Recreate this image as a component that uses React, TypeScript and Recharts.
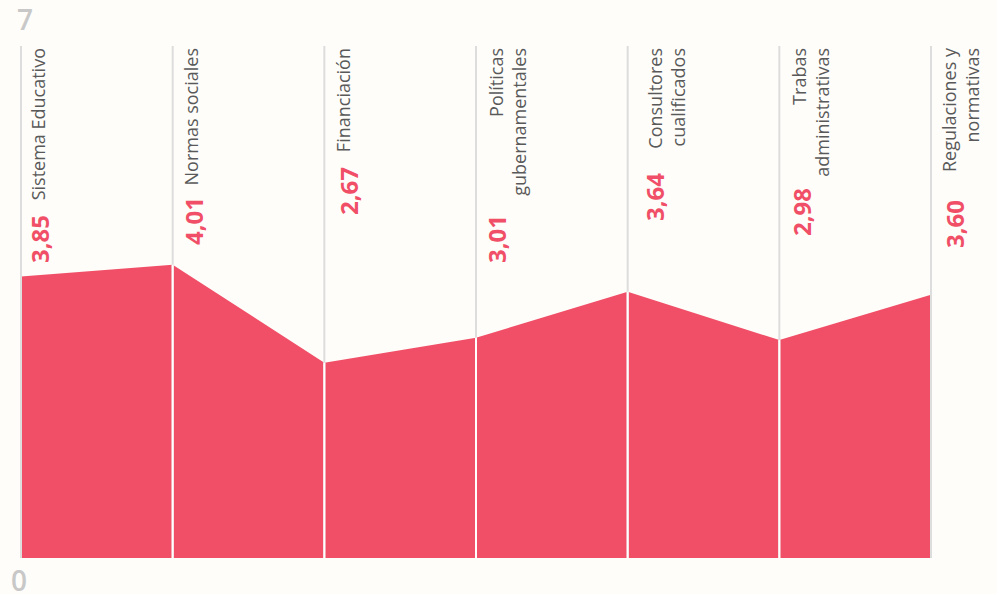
import React from "react";
import { AreaChart, Area, XAxis, YAxis, ReferenceLine } from "recharts";

const categoryLines: string[][] = [
  ["Sistema Educativo"],
  ["Normas sociales"],
  ["Financiación"],
  ["Políticas", "gubernamentales"],
  ["Consultores", "cualificados"],
  ["Trabas", "administrativas"],
  ["Regulaciones y", "normativas"],
];
const values = [3.85, 4.01, 2.67, 3.01, 3.64, 2.98, 3.6];
const valueLabels = ["3,85", "4,01", "2,67", "3,01", "3,64", "2,98", "3,60"];
const yTicks = [0, 7];

// label layout (offsets relative to each gridline)
const labelDx = [24, 25, 26, 27, 34, 27, 25];
const valueDx = [28, 30, 34, 30, 36, 32, 33];
const valueEndDy = [169, 151, 121, 169, 127, 142, 154];

const data = categoryLines.map((lines, i) => ({
  name: lines.join(" "),
  value: values[i],
}));

const FONT = "'Open Sans', 'DejaVu Sans', sans-serif";
const RED = "#f04f67";

const makeLabel = (i: number) => (props: any) => {
  const vb = props.viewBox || {};
  const x0 = vb.x;
  const y0 = vb.y;
  const lx = x0 + labelDx[i];
  const ly = y0 + 2;
  const vx = x0 + valueDx[i];
  const vy = y0 + valueEndDy[i];
  return (
    <g>
      {categoryLines[i].map((line, k) => (
        <text
          key={k}
          x={lx + k * 23}
          y={ly}
          transform={`rotate(-90, ${lx + k * 23}, ${ly})`}
          textAnchor="end"
          fontFamily={FONT}
          fontSize={18}
          fill="#595959"
        >
          {line}
        </text>
      ))}
      <text
        x={vx}
        y={vy}
        transform={`rotate(-90, ${vx}, ${vy})`}
        textAnchor="end"
        fontFamily={FONT}
        fontSize={24}
        fontWeight={700}
        fill={RED}
      >
        {valueLabels[i]}
      </text>
    </g>
  );
};

const YTick = (props: any) => {
  const { x, y, payload } = props;
  const isTop = payload.value === 7;
  return (
    <text
      x={isTop ? x + 4 : x - 2}
      y={isTop ? y - 16 : y + 33}
      textAnchor="start"
      fontFamily={FONT}
      fontSize={28}
      fontWeight={600}
      fill="#c8c8c8"
    >
      {payload.value}
    </text>
  );
};

export default function App() {
  return (
    <div
      style={{
        position: "absolute",
        left: 0,
        top: 0,
        width: 997,
        height: 594,
        background: "#fefdf9",
      }}
    >
      <AreaChart
        width={997}
        height={594}
        data={data}
        margin={{ top: 46, right: 66, bottom: 36, left: 0 }}
      >
        <XAxis dataKey="name" hide />
        <YAxis
          type="number"
          domain={[0, 7]}
          ticks={yTicks}
          width={21}
          axisLine={false}
          tickLine={false}
          tick={<YTick />}
          interval={0}
        />
        {data.map((d, i) => (
          <ReferenceLine
            key={`g${i}`}
            x={d.name}
            stroke="#dddddd"
            strokeWidth={2}
            label={makeLabel(i)}
          />
        ))}
        <Area
          type="linear"
          dataKey="value"
          fill={RED}
          fillOpacity={1}
          stroke="none"
          isAnimationActive={false}
        />
        {data.slice(1, -1).map((d) => (
          <ReferenceLine
            key={`w${d.name}`}
            segment={[
              { x: d.name, y: 0 },
              { x: d.name, y: d.value },
            ]}
            stroke="#ffffff"
            strokeWidth={2}
          />
        ))}
      </AreaChart>
    </div>
  );
}
